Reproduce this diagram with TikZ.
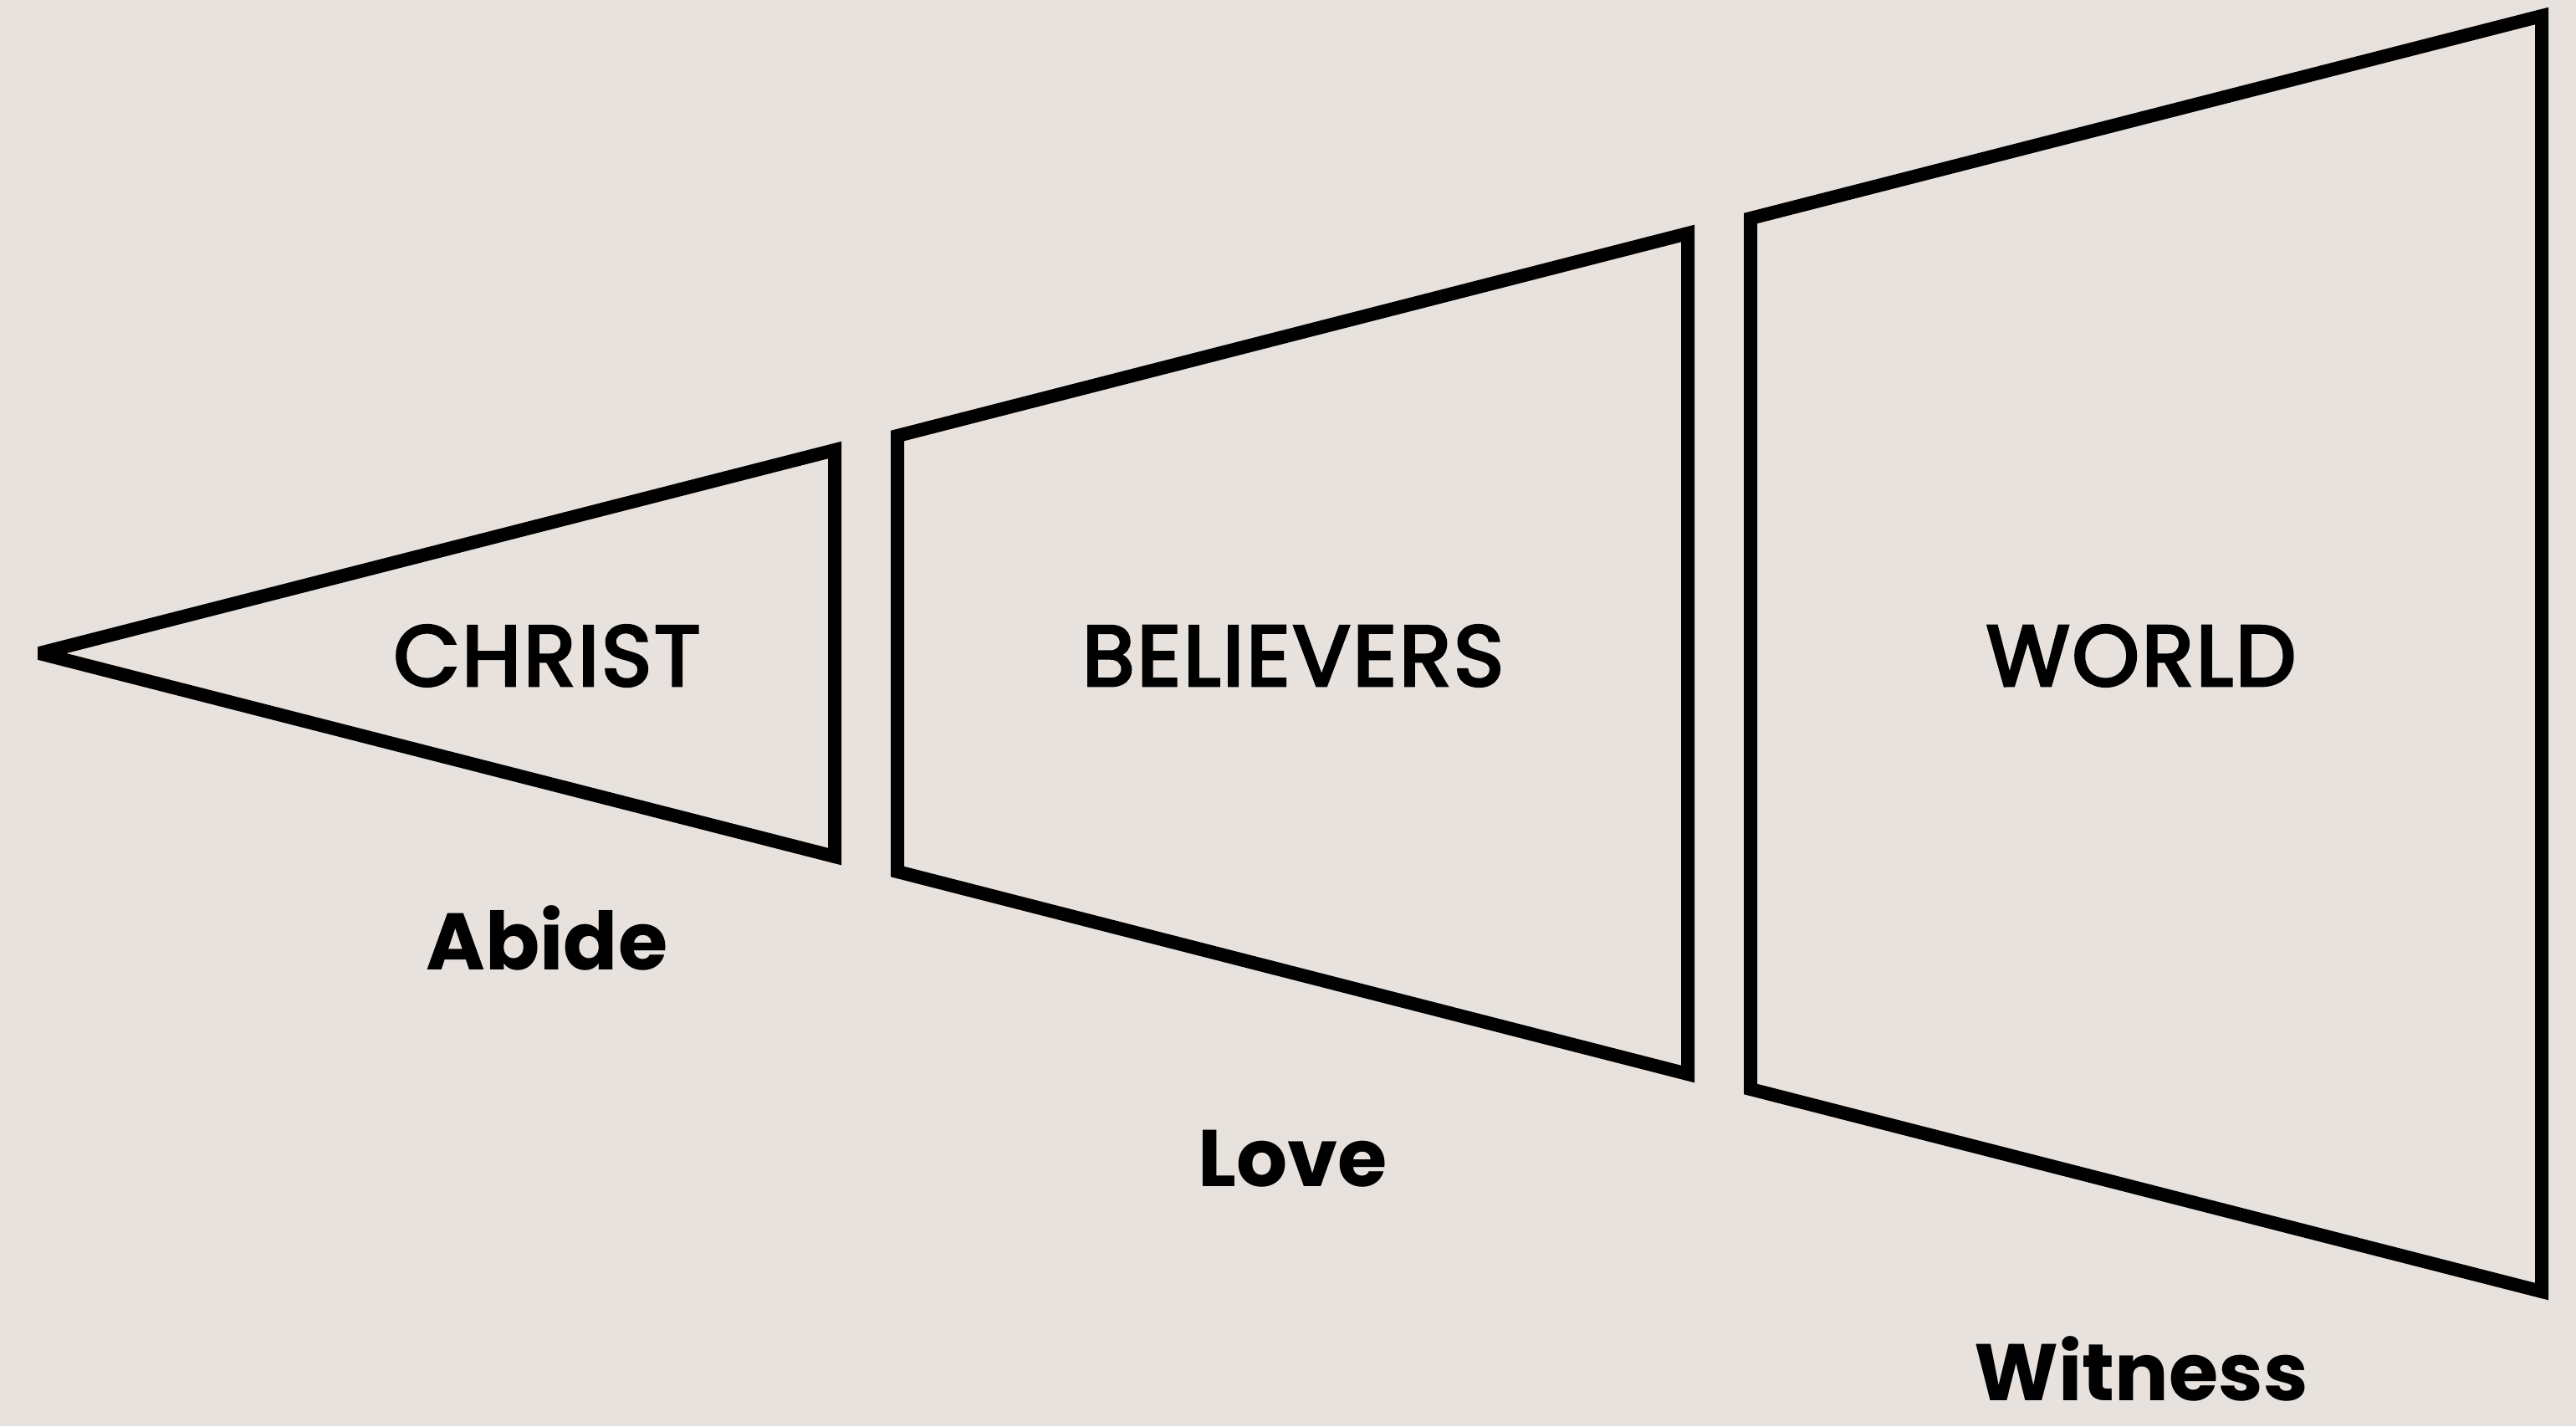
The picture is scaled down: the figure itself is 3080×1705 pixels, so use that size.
\documentclass[tikz,border=0pt]{standalone}
\usepackage{fontspec}
\setmainfont{Poppins}
\newfontfamily\titlefont[FakeBold=3.5,LetterSpace=3]{Poppins}
\definecolor{bgcol}{RGB}{231,226,222}
\begin{document}
\begin{tikzpicture}[x=0.25pt,y=-0.25pt,
  outline/.style={draw=black,line width=4pt,line join=miter,miter limit=2},
  title/.style={font=\titlefont\fontsize{25.5}{30}\selectfont, text=black, anchor=center, inner sep=0pt},
  verb/.style={font=\fontsize{24}{30}\selectfont\bfseries, text=black, anchor=center, inner sep=0pt}]
\fill[bgcol] (0,0) rectangle (3080,1705);
\useasboundingbox (0,0) rectangle (3080,1705);
% triangle
\draw[outline] (47,781) -- (998,538) -- (998,1024) -- cycle;
% believers trapezoid
\draw[outline] (1073,521) -- (2018,279) -- (2018,1284) -- (1073,1042) -- cycle;
% world trapezoid
\draw[outline] (2093,261) -- (3039,19) -- (3039,1544) -- (2093,1302) -- cycle;
\node[title] (christ) at (654,784) {CHRIST};
\node[title] (believers) at (1546,784) {BELIEVERS};
\node[title] (world) at (2560,784) {WORLD};
\node[verb] (abide) at (654,1121) {Abide};
\node[verb] (love) at (1546,1385) {Love};
\node[verb] (witness) at (2560,1636) {Witness};
\end{tikzpicture}
\end{document}
